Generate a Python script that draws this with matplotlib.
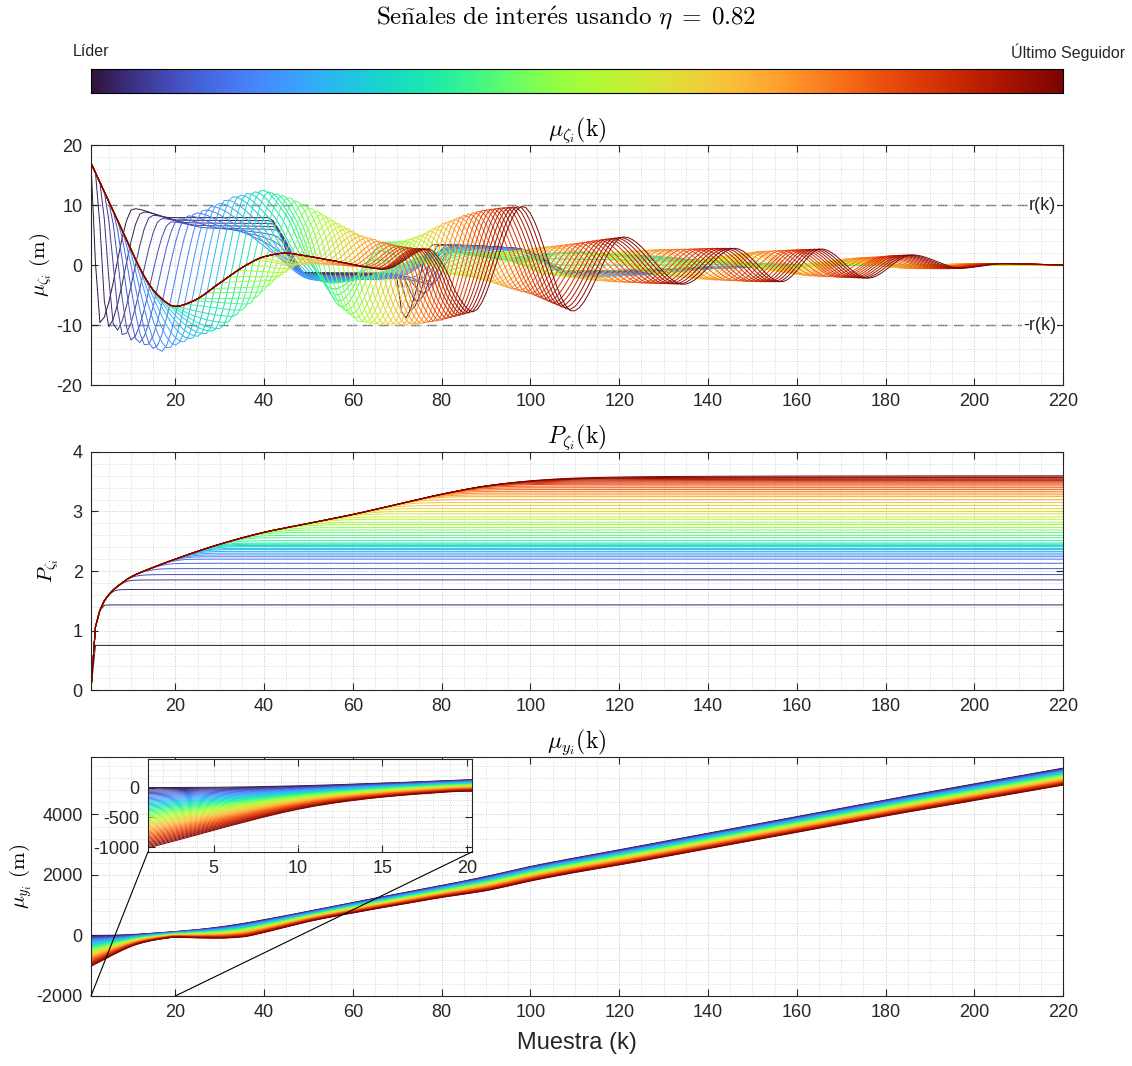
import numpy as np
import matplotlib.pyplot as plt
from matplotlib.ticker import MultipleLocator
from matplotlib.patches import ConnectionPatch

plt.rcParams['font.family'] = ['Liberation Sans', 'DejaVu Sans']
plt.rcParams['mathtext.fontset'] = 'cm'
plt.rcParams['axes.unicode_minus'] = False

n_veh = 50
k = np.arange(1, 221)

# --- mu_zeta: path shared by every follower until it branches off
common_k = [1, 4, 7, 10, 13, 16, 20, 24, 30, 36, 40, 45, 48, 55, 63, 67, 70.5, 74, 77]
common_v = [17, 12.2, 7.4, 2.6, -1.9, -5.0, -6.9, -6.0, -3.0, 0.0, 1.4, 2.0, 1.7, 0.8, -0.3, -0.7, 0.0, 2.0, 2.7]

# extrema read for some followers (dip1, peak1, shoulder, shoulder, dip2, peak2, ... ), others sit between
anchor_ids = [0, 4, 8, 12, 16, 20, 24, 28, 32, 36, 40, 44, 49]
anchor_branch = [1, 5, 9, 13, 17, 24, 30, 38, 45, 52, 58, 62, 66]
anchor_t = [
    [3, 10.5, 19, 41, 48, 69.5, 71.5, 78, 97, 108, 125, 140, 155, 170, 185, 200],
    [10, 19, 27, 42.5, 50, 72, 77.5, 84, 98, 110, 126, 141, 156, 171, 186, 201],
    [16.8, 26.5, 34, 42, 51, 65, 71, 83, 97, 109, 125, 141, 156, 171, 186, 201],
    [23.5, 33, 39.5, 46, 52.5, 63, 70, 85, 98, 110, 126, 142, 157, 172, 187, 202],
    [30, 39.5, 44.7, 49.8, 55, 63, 69, 80, 95, 106, 125, 140, 155, 170, 185, 200],
    [36.5, 45.5, 49.5, 53.5, 57.5, 67, 77, 88, 98, 110, 125, 140, 155, 170, 185, 200],
    [42, 52, 55.2, 58.3, 61.5, 71.5, 82, 93, 104, 115, 127, 140, 152, 165, 180, 195],
    [46.5, 56.5, 59.7, 62.8, 66, 76, 87, 98, 109, 120, 132, 144, 156, 168, 182, 196],
    [51, 61, 64.3, 67.7, 71, 80.5, 92, 103, 114, 126, 138, 149, 160, 171, 184, 197],
    [57, 66, 69.2, 72.3, 75.5, 85, 96, 107, 119, 130, 142, 152, 163, 174, 187, 199],
    [62, 70.5, 73.5, 76.5, 79.5, 89.5, 101, 112, 125, 136, 148, 158, 169, 179, 191, 202],
    [66, 74, 77, 80, 83, 93.5, 105, 116.5, 129.5, 141, 152, 161.5, 172, 182, 194, 204.5],
    [67, 77, 80.3, 83.7, 87, 98.2, 109.5, 121, 134.5, 146, 156.5, 165.5, 176, 186, 197, 207],
]
anchor_v = [
    [-9.6, 9.4, 7.9, 7.9, -1.2, -1.4, -9.0, 3.4, 2.8, -1.0, -0.8, -0.4, -0.1, 0, 0, 0],
    [-12.5, 7.2, 6.2, 5.9, -1.8, -1.9, -3.3, 3.1, 2.6, -1.2, -1.0, -0.5, -0.2, 0, 0, 0],
    [-14.4, 9.2, 6.5, 2.0, -2.4, -2.4, -1.8, 3.2, 2.7, -1.5, -1.3, -0.6, -0.2, 0, 0, 0],
    [-12.3, 11.4, 7.9, 0.9, -2.6, -2.3, -1.2, 2.8, 2.2, -2.0, -1.6, -0.5, -0.1, 0, 0, 0],
    [-10.6, 12.5, 8.6, 0.9, -3.0, -2.0, -0.5, 2.2, 1.0, 2.0, 1.6, 0.7, 0.2, 0, 0, 0],
    [-6.5, 11.3, 6.7, -2.4, -7.0, 3.8, 0.5, 2.0, 0.5, 2.2, 1.0, 0.5, -0.3, 0, 0, 0],
    [-2.5, 9.0, 4.4, -4.9, -9.5, 4.0, -1.5, 2.0, -1.5, 1.8, -1.2, 1.0, -0.5, 0.3, 0, 0],
    [0.0, 7.0, 2.75, -5.75, -10.0, 5.2, -2.0, 2.5, -2.0, 2.2, -1.8, 1.5, -1.0, 0.6, -0.2, 0.1],
    [0.2, 5.2, 1.4, -6.2, -10.0, 7.0, -3.0, 3.0, -2.5, 2.5, -2.3, 2.0, -1.5, 1.0, -0.5, 0.2],
    [0.0, 4.0, 0.55, -6.35, -9.8, 8.3, -4.0, 3.3, -2.8, 2.6, -2.5, 2.3, -1.8, 1.2, -0.6, 0.2],
    [-0.3, 3.2, 0.1, -6.2, -9.3, 9.2, -5.0, 3.8, -3.0, 2.7, -2.7, 2.5, -2.0, 1.4, -0.6, 0.25],
    [-0.6, 2.8, 0.0, -5.7, -8.6, 9.6, -6.3, 4.3, -3.1, 2.8, -2.8, 2.6, -2.1, 1.6, -0.6, 0.25],
    [-0.7, 2.7, 0.1, -5.2, -7.8, 9.8, -7.7, 4.7, -3.2, 2.8, -2.8, 2.7, -2.2, 1.7, -0.5, 0.25],
]

# --- P_zeta: rising envelope and the level where each follower levels off
p_env_k = [1, 2, 3, 4, 6, 8, 10, 15, 20, 30, 40, 50, 60, 70, 80, 90, 100, 110, 130, 220]
p_env_v = [0, 1.06, 1.34, 1.5, 1.68, 1.8, 1.9, 2.06, 2.2, 2.45, 2.65, 2.8, 2.95, 3.12, 3.29, 3.43, 3.52, 3.58, 3.64, 3.75]
p_level = [0.75, 1.43, 1.69, 1.85, 1.94, 2.04, 2.13, 2.20, 2.24, 2.27,
           2.30, 2.33, 2.36, 2.38, 2.41, 2.43, 2.45, 2.47, 2.51, 2.56,
           2.60, 2.65, 2.69, 2.73, 2.78, 2.82, 2.87, 2.91, 2.96, 3.00,
           3.05, 3.10, 3.15, 3.20, 3.25, 3.28, 3.31, 3.34, 3.37, 3.40,
           3.43, 3.46, 3.48, 3.50, 3.52, 3.54, 3.56, 3.57, 3.58, 3.60]

# --- mu_y: leader (top edge) and last follower (bottom edge) of the band
y_lead_k = [1, 5, 10, 15, 20, 25, 30, 35, 40, 50, 60, 70, 80, 90, 100, 120, 140, 160, 180, 200, 220]
y_lead_v = [0, 5, 30, 75, 130, 195, 280, 390, 520, 800, 1090, 1370, 1650, 1950, 2280, 2830, 3380, 3930, 4480, 5010, 5530]
y_last_k = [1, 3, 5, 7, 9, 11, 13, 15, 18, 20, 25, 30, 35, 40, 45, 50, 60, 70, 80, 90, 100, 110, 120, 140, 160, 180, 200, 220]
y_last_v = [-1020, -870, -715, -565, -425, -310, -225, -160, -90, -60, -80, -90, -50, 100, 280, 460, 745, 1005, 1257, 1480,
            1800, 2080, 2330, 2870, 3410, 3950, 4460, 4970]


def pchip(xk, yk, x):
    xk = np.asarray(xk, float)
    yk = np.asarray(yk, float)
    h = np.diff(xk)
    d = np.diff(yk) / h
    m = np.zeros_like(yk)
    m[0], m[-1] = d[0], d[-1]
    for j in range(1, len(xk) - 1):
        if d[j - 1] * d[j] > 0:
            w1 = 2 * h[j] + h[j - 1]
            w2 = h[j] + 2 * h[j - 1]
            m[j] = (w1 + w2) / (w1 / d[j - 1] + w2 / d[j])
    idx = np.clip(np.searchsorted(xk, x, side='right') - 1, 0, len(xk) - 2)
    t = (x - xk[idx]) / h[idx]
    h00 = 2 * t**3 - 3 * t**2 + 1
    h10 = t**3 - 2 * t**2 + t
    h01 = -2 * t**3 + 3 * t**2
    h11 = t**3 - t**2
    return h00 * yk[idx] + h10 * h[idx] * m[idx] + h01 * yk[idx + 1] + h11 * h[idx] * m[idx + 1]


T = np.array(anchor_t)
V = np.array(anchor_v)


def zeta(i):
    b = np.interp(i, anchor_ids, anchor_branch)
    ts = [np.interp(i, anchor_ids, T[:, s]) for s in range(T.shape[1])]
    vs = [np.interp(i, anchor_ids, V[:, s]) for s in range(V.shape[1])]
    pre = np.arange(1, int(b) + 1)
    xs = list(pre) + ts + [220]
    ys = list(pchip(common_k, common_v, pre)) + vs + [0]
    return pchip(xs, ys, k)


env = pchip(p_env_k, p_env_v, k)
top = pchip(y_lead_k, y_lead_v, k)
bot = pchip(y_last_k, y_last_v, k)
cmap = plt.get_cmap('turbo')

fig = plt.figure(figsize=(11.32, 10.66), dpi=100)
ax1 = fig.add_axes([0.0804, 0.6388, 0.8587, 0.2251])
ax2 = fig.add_axes([0.0804, 0.3527, 0.8587, 0.2233])
ax3 = fig.add_axes([0.0804, 0.0657, 0.8587, 0.2242])
cax = fig.add_axes([0.0804, 0.9128, 0.8587, 0.0225])
axin = fig.add_axes([0.1307, 0.2008, 0.2862, 0.0872])

for i in range(n_veh):
    c = cmap(i / (n_veh - 1))
    ax1.plot(k, zeta(i), color=c, lw=0.7)
    L = p_level[i]
    s = 0.04
    ax2.plot(k, L - s * np.logaddexp(0, (L - env) / s), color=c, lw=0.7)
    y = top + (bot - top) * i / (n_veh - 1)
    ax3.plot(k, y, color=c, lw=0.7)
    axin.plot(k, y, color=c, lw=0.7)


def style(ax, xminor, yminor):
    ax.xaxis.set_minor_locator(MultipleLocator(xminor))
    ax.yaxis.set_minor_locator(MultipleLocator(yminor))
    ax.tick_params(which='both', direction='in', top=True, right=True, labelsize=13,
                   color='#262626', labelcolor='#262626', pad=6)
    ax.tick_params(which='major', length=5, width=0.8)
    ax.tick_params(which='minor', length=0)
    for sp in ax.spines.values():
        sp.set_color('#262626')
        sp.set_linewidth(0.8)
    ax.grid(True, which='major', ls=':', color='#c4c4c4', lw=0.7)
    ax.grid(True, which='minor', ls=':', color='#d2d2d2', lw=0.6)
    ax.set_axisbelow(True)


for ax in (ax1, ax2, ax3):
    ax.set_xlim(1, 220)
    ax.xaxis.set_major_locator(MultipleLocator(20))

ax1.set_ylim(-20, 20)
ax1.yaxis.set_major_locator(MultipleLocator(10))
style(ax1, 5, 2)
for lev, lab in ((10, 'r(k)'), (-10, '-r(k)')):
    ax1.axhline(lev, color='#6a6a6a', lw=1.0, dashes=(7, 4.5), zorder=0.5)
    ax1.text(0.993, lev, lab, transform=ax1.get_yaxis_transform(), ha='right', va='center',
             fontsize=13, color='#262626', bbox=dict(fc='white', ec='none', pad=0.5))
ax1.set_title(r'$\mu_{\zeta_i}(\mathrm{k})$', fontsize=17, pad=5)
ax1.set_ylabel(r'$\mu_{\zeta_i}\ \mathrm{(m)}$', fontsize=15, labelpad=2)

ax2.set_ylim(0, 4)
ax2.yaxis.set_major_locator(MultipleLocator(1))
style(ax2, 5, 0.2)
ax2.set_title(r'$P_{\zeta_i}(\mathrm{k})$', fontsize=17, pad=5)
ax2.set_ylabel(r'$P_{\zeta_i}$', fontsize=15, labelpad=8)

ax3.set_ylim(-2000, 5900)
ax3.yaxis.set_major_locator(MultipleLocator(2000))
style(ax3, 5, 400)
ax3.set_title(r'$\mu_{y_i}(\mathrm{k})$', fontsize=17, pad=5)
ax3.set_ylabel(r'$\mu_{y_i}\ \mathrm{(m)}$', fontsize=15, labelpad=2)
ax3.set_xlabel('Muestra (k)', fontsize=17, labelpad=8, color='#262626')

axin.set_xlim(1.1, 20.3)
axin.set_ylim(-1080, 480)
axin.set_xticks([5, 10, 15, 20])
axin.set_yticks([-1000, -500, 0])
style(axin, 1, 100)
for xa, xb in (((1, -2000), (0, 0)), ((20, -2000), (1, 0))):
    fig.add_artist(ConnectionPatch(xyA=xa, coordsA=ax3.transData, xyB=xb, coordsB=axin.transAxes,
                                   color='black', lw=0.8))

cax.imshow(np.linspace(0, 1, 256)[None, :], aspect='auto', cmap='turbo', extent=[0, 1, 0, 1])
cax.set_xticks([])
cax.set_yticks([])
for sp in cax.spines.values():
    sp.set_linewidth(0.8)

fig.text(0.5, 1 - 18 / 1066, r'$\mathrm{Se\tilde{n}ales\ de\ inter\acute{e}s\ usando}\ \eta\;=\;0.82$',
         ha='center', va='center', fontsize=18)
fig.text(73 / 1132, 1 - 52 / 1066, 'Líder', ha='left', va='center', fontsize=11.5, color='#262626')
fig.text(1125 / 1132, 1 - 52 / 1066, 'Último Seguidor', ha='right', va='center', fontsize=11.5, color='#262626')

fig.savefig('out.png', dpi=100)
